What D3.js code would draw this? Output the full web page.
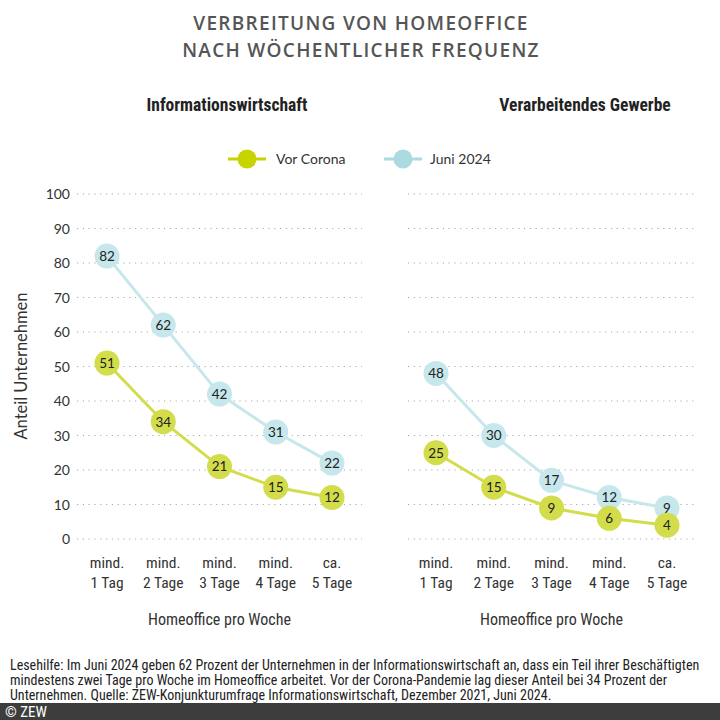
<!DOCTYPE html>
<html><head><meta charset="utf-8">
<script src="https://cdn.jsdelivr.net/npm/d3@7"></script>
<style>
html,body{margin:0;padding:0;background:#fff;}
svg text{font-family:"Liberation Sans Narrow","Roboto Condensed","Open Sans",sans-serif;}
</style></head><body>
<svg id="chart" width="720" height="720"></svg>
<script>
const categoriesTop = ["mind.","mind.","mind.","mind.","ca."];
const categoriesBottom = ["1 Tag","2 Tage","3 Tage","4 Tage","5 Tage"];
const yTicks = [0,10,20,30,40,50,60,70,80,90,100];
const panels = ["Informationswirtschaft","Verarbeitendes Gewerbe"];
const seriesNames = ["Vor Corona","Juni 2024"];
const infoVor = [51,34,21,15,12];
const infoJuni = [82,62,42,31,22];
const verVor = [25,15,9,6,4];
const verJuni = [48,30,17,12,9];

const green = "#d3dc4a", greenLeg = "#c8d400", blue = "#c6e7eb", blueLeg = "#abdbe0";
const svg = d3.select("#chart");
svg.append("rect").attr("width",720).attr("height",720).attr("fill","#fff");

// Title
["VERBREITUNG VON HOMEOFFICE","NACH WÖCHENTLICHER FREQUENZ"].forEach((t,i)=>{
  svg.append("text").attr("x",361).attr("y",30+i*27).attr("text-anchor","middle")
    .style("font-family","'Open Sans',sans-serif").style("font-size","19px").style("font-weight","600")
    .style("letter-spacing","1.3px").attr("fill","#555").text(t);
});

const y = d3.scaleLinear().domain([0,100]).range([539,194]);

const panelDefs = [
  {title:panels[0], tx:227, x0:77, x1:362, pts:[107,163,218,275,332], vor:infoVor, juni:infoJuni, axis:true},
  {title:panels[1], tx:585, x0:408, x1:696, pts:[436,494,551,609,667], vor:verVor, juni:verJuni, axis:false}
];

panelDefs.forEach(p=>{
  const g = svg.append("g");
  g.append("text").attr("x",p.tx).attr("y",111).attr("text-anchor","middle")
    .style("font-size","17.5px").style("font-weight","bold").attr("fill","#222").text(p.title);
  const x = d3.scalePoint().domain(d3.range(5)).range([p.pts[0],p.pts[4]]);
  g.selectAll("line.grid").data(yTicks).join("line").attr("class","grid")
    .attr("x1",p.x0).attr("x2",p.x1).attr("y1",d=>y(d)).attr("y2",d=>y(d))
    .attr("stroke","#aaa").attr("stroke-width",1.2).attr("stroke-dasharray","1.2,4.6");
  if(p.axis){
    const ax = d3.axisLeft(y).tickValues(yTicks).tickSize(0).tickPadding(0);
    const ag = g.append("g").attr("transform","translate(70,0)").call(ax);
    ag.select(".domain").remove();
    ag.selectAll("text").style("font-family","Lato,sans-serif").style("font-size","14px").attr("fill","#333").attr("dy","0.35em");
  }
  g.selectAll("text.xl1").data(categoriesTop).join("text").attr("class","xl1")
    .attr("x",(d,i)=>x(i)).attr("y",568).attr("text-anchor","middle")
    .style("font-size","15.5px").attr("fill","#333").text(d=>d);
  g.selectAll("text.xl2").data(categoriesBottom).join("text").attr("class","xl2")
    .attr("x",(d,i)=>x(i)).attr("y",588).attr("text-anchor","middle")
    .style("font-size","15.5px").attr("fill","#333").text(d=>d);
  g.append("text").attr("x",(x(0)+x(4))/2).attr("y",625).attr("text-anchor","middle")
    .style("font-size","16px").attr("fill","#333").text("Homeoffice pro Woche");

  const line = d3.line().x((d,i)=>x(i)).y(d=>y(d));
  [[p.juni,blue],[p.vor,green]].forEach(([vals,col])=>{
    g.append("path").datum(vals).attr("d",line).attr("fill","none").attr("stroke",col).attr("stroke-width",3);
  });
  [[p.juni,blue],[p.vor,green]].forEach(([vals,col])=>{
    const pg = g.append("g");
    pg.selectAll("circle").data(vals).join("circle").attr("cx",(d,i)=>x(i)).attr("cy",d=>y(d)).attr("r",12.5).attr("fill",col);
    pg.selectAll("text").data(vals).join("text").attr("x",(d,i)=>x(i)).attr("y",d=>y(d)).attr("dy","0.36em")
      .attr("text-anchor","middle").style("font-family","Lato,sans-serif").style("font-size","13.5px").attr("fill","#222").text(d=>d);
  });
});

// Legend
const leg = [{name:seriesNames[0],col:greenLeg,x:247,tx:276},{name:seriesNames[1],col:blueLeg,x:403,tx:430}];
leg.forEach(l=>{
  svg.append("line").attr("x1",l.x-19).attr("x2",l.x+19).attr("y1",159).attr("y2",159).attr("stroke",l.col).attr("stroke-width",3);
  svg.append("circle").attr("cx",l.x).attr("cy",159).attr("r",9.5).attr("fill",l.col);
  svg.append("text").attr("x",l.tx).attr("y",159).attr("dy","0.35em").style("font-family","Lato,sans-serif").style("font-size","14px").attr("fill","#333").text(l.name);
});

// Y axis title
svg.append("text").attr("transform","translate(27,366) rotate(-90)").attr("text-anchor","middle")
  .style("font-family","Lato,sans-serif").style("font-size","16.5px").attr("fill","#333").text("Anteil Unternehmen");

// Footnote
const notes = ["Lesehilfe: Im Juni 2024 geben 62 Prozent der Unternehmen in der Informationswirtschaft an, dass ein Teil ihrer Beschäftigten",
 "mindestens zwei Tage pro Woche im Homeoffice arbeitet. Vor der Corona-Pandemie lag dieser Anteil bei 34 Prozent der",
 "Unternehmen. Quelle: ZEW-Konjunkturumfrage Informationswirtschaft, Dezember 2021, Juni 2024."];
svg.selectAll("text.note").data(notes).join("text").attr("class","note")
  .attr("x",10).attr("y",(d,i)=>670+i*15).style("font-size","14px").attr("fill","#222").text(d=>d);
svg.append("rect").attr("x",0).attr("y",703).attr("width",720).attr("height",17).attr("fill","#3d3d3d");
svg.append("text").attr("x",5).attr("y",717).style("font-size","15px").attr("fill","#fff").text("© ZEW");
</script></body></html>
